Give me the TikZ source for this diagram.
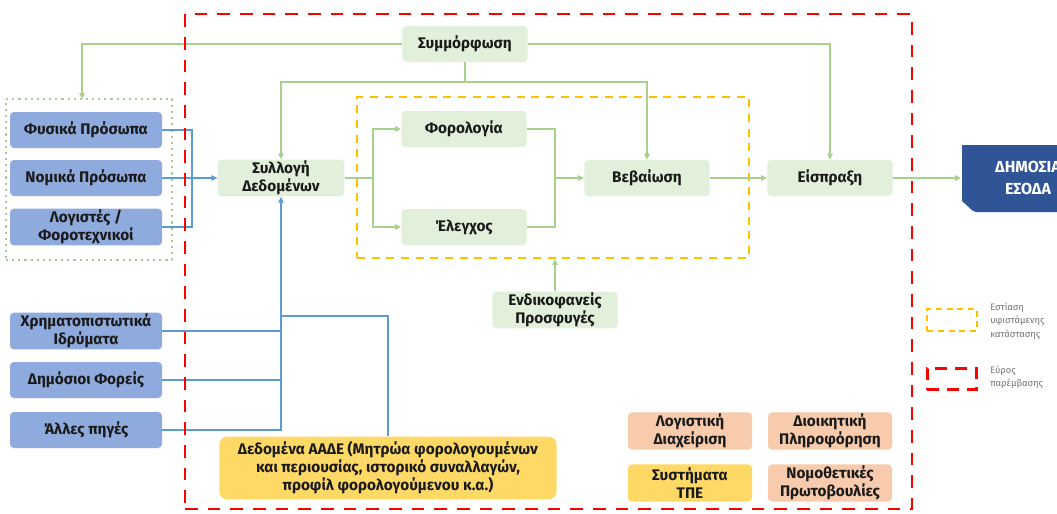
\documentclass[tikz,border=0pt]{standalone}
\usepackage{fontspec}
\setmainfont{Fira Sans}
\usetikzlibrary{arrows.meta}
\definecolor{gfill}{HTML}{E2EFDA}
\definecolor{bfill}{HTML}{8FAADC}
\definecolor{glinec}{HTML}{A9D18E}
\definecolor{blinec}{HTML}{5B9BD5}
\definecolor{dblue}{HTML}{2F5597}
\definecolor{peach}{HTML}{F8CBAD}
\definecolor{yelfill}{HTML}{FFD966}
\definecolor{redc}{HTML}{FF0000}
\definecolor{yelc}{HTML}{FFC000}
\definecolor{dotc}{HTML}{A9C99A}
\definecolor{txt}{HTML}{1A1A1A}
\begin{document}
\begin{tikzpicture}[x=0.75pt,y=-0.75pt,
  boxtext/.style={align=center, text=txt, font=\bfseries\fontsize{11.5}{13.5}\selectfont, inner sep=1pt},
  gbox/.style={boxtext, fill=gfill, rounded corners=3pt, minimum width=94pt, minimum height=27pt},
  bbox/.style={boxtext, fill=bfill, rounded corners=3pt, minimum width=114pt, minimum height=27pt},
  pbox/.style={boxtext, fill=peach, rounded corners=3pt, minimum width=93pt, minimum height=28pt},
  ybox/.style={boxtext, fill=yelfill, rounded corners=3pt, minimum width=93pt, minimum height=28pt},
  gline/.style={draw=glinec, line width=1pt},
  garrow/.style={gline, -{Triangle[length=4.5pt,width=4pt]}},
  bline/.style={draw=blinec, line width=1pt},
  barrow/.style={bline, -{Triangle[length=4.5pt,width=4pt]}},
  redframe/.style={draw=redc, line width=2.2pt, dash pattern=on 9.5pt off 7.5pt},
  yelframe/.style={draw=yelc, line width=1.6pt, dash pattern=on 6pt off 5pt},
  dotframe/.style={draw=dotc, line width=1.1pt, dash pattern=on 1.6pt off 3pt},
  legtext/.style={anchor=west, align=left, text=black!55, font=\fontsize{7}{10}\selectfont, inner sep=0pt}
]
\clip (0,0) rectangle (1057,514);
\fill[white] (0,0) rectangle (1057,514);

% frames
\node[dotframe, minimum width=124.5pt, minimum height=120.75pt, inner sep=0pt] (grp) at (89,179.5) {};
\node[yelframe, minimum width=294pt, minimum height=120.75pt, inner sep=0pt] (focus) at (553,177.5) {};

% left sources
\node[bbox] (fys) at (86,130) {Φυσικά Πρόσωπα};
\node[bbox] (nom) at (86,178) {Νομικά Πρόσωπα};
\node[bbox] (logi) at (86,227) {Λογιστές /\\Φοροτεχνικοί};
\node[bbox] (xrim) at (86,331) {Χρηματοπιστωτικά\\Ιδρύματα};
\node[bbox] (dimf) at (86,380) {Δημόσιοι Φορείς};
\node[bbox] (alles) at (86,430) {Άλλες πηγές};

% process
\node[gbox] (sym) at (465,44) {Συμμόρφωση};
\node[gbox, minimum width=95pt] (syl) at (281,178) {Συλλογή\\Δεδομένων};
\node[gbox] (for) at (464,129) {Φορολογία};
\node[gbox] (ele) at (464,227) {Έλεγχος};
\node[gbox] (veb) at (647,178) {Βεβαίωση};
\node[gbox] (eis) at (830,178) {Είσπραξη};
\node[gbox] (endik) at (555,310) {Ενδικοφανείς\\Προσφυγές};

% output
\fill[dblue, rounded corners=2pt] (962,145) -- (1100,145) -- (1100,212) -- (974,212) [sharp corners] -- (962,201) -- cycle;
\node[align=center, text=white, font=\bfseries\fontsize{12}{16.5}\selectfont, minimum width=100pt, minimum height=50pt, inner sep=0pt] (dim) at (1028,178) {ΔΗΜΟΣΙΑ\\ΕΣΟΔΑ};

% bottom boxes
\node[boxtext, fill=yelfill, rounded corners=6pt, minimum width=253pt, minimum height=47pt] (aade) at (388,468) {Δεδομένα ΑΑΔΕ (Μητρώα φορολογουμένων\\και περιουσίας, ιστορικό συναλλαγών,\\προφίλ φορολογούμενου κ.α.)};
\node[pbox] (logd) at (690,431) {Λογιστική\\Διαχείριση};
\node[pbox] (dioik) at (830,431) {Διοικητική\\Πληροφόρηση};
\node[ybox] (tpe) at (690,483) {Συστήματα\\ΤΠΕ};
\node[pbox] (nomo) at (830,483) {Νομοθετικές\\Πρωτοβουλίες};

% coordinates
\coordinate (busL) at (192,178);
\coordinate (splitA) at (373,178);
\coordinate (joinB) at (555,178);
\coordinate (symsplit) at (465,82);
\coordinate (grpin) at (82,99);
\coordinate (aadeturn) at (281,316);

% blue connectors
\draw[bline] (fys.east) -| (busL);
\draw[bline] (logi.east) -| (busL);
\draw[barrow] (nom.east) -- (syl.west);
\draw[barrow] (alles.east) -| (syl.south);
\draw[bline] (xrim.east) -- (xrim.east -| syl.south);
\draw[bline] (dimf.east) -- (dimf.east -| syl.south);
\draw[bline] (aade.north) |- (aadeturn);

% green connectors
\draw[gline] (sym.south) -- (symsplit);
\draw[garrow] (symsplit) -| (syl.north);
\draw[garrow] (symsplit) -| (veb.north);
\draw[garrow] (sym.west) -| (grpin);
\draw[garrow] (sym.east) -| (eis.north);
\draw[gline] (syl.east) -- (splitA);
\draw[garrow] (splitA) |- (for.west);
\draw[garrow] (splitA) |- (ele.west);
\draw[gline] (for.east) -| (joinB);
\draw[gline] (ele.east) -| (joinB);
\draw[garrow] (joinB) -- (veb.west);
\draw[garrow] (veb.east) -- (eis.west);
\draw[garrow] (eis.east) -- (dim.west);
\draw[garrow] (endik.north) -- (endik.north |- focus.south);

% intervention frame
\node[redframe, minimum width=545.25pt, minimum height=371.25pt, inner sep=0pt] (scope) at (548.5,261.5) {};

% legend
\node[yelframe, line width=1.4pt, dash pattern=on 4.5pt off 3.5pt, minimum width=37pt, minimum height=17pt, inner sep=0pt] (legy) at (952,320) {};
\node[legtext] (legyt) at (990,321) {Εστίαση\\υφιστάμενης\\κατάστασης};
\node[redframe, line width=2pt, dash pattern=on 9pt off 6pt, minimum width=37pt, minimum height=16pt, inner sep=0pt] (legr) at (952,379) {};
\node[legtext] (legrt) at (990,377) {Εύρος\\παρέμβασης};
\end{tikzpicture}
\end{document}
